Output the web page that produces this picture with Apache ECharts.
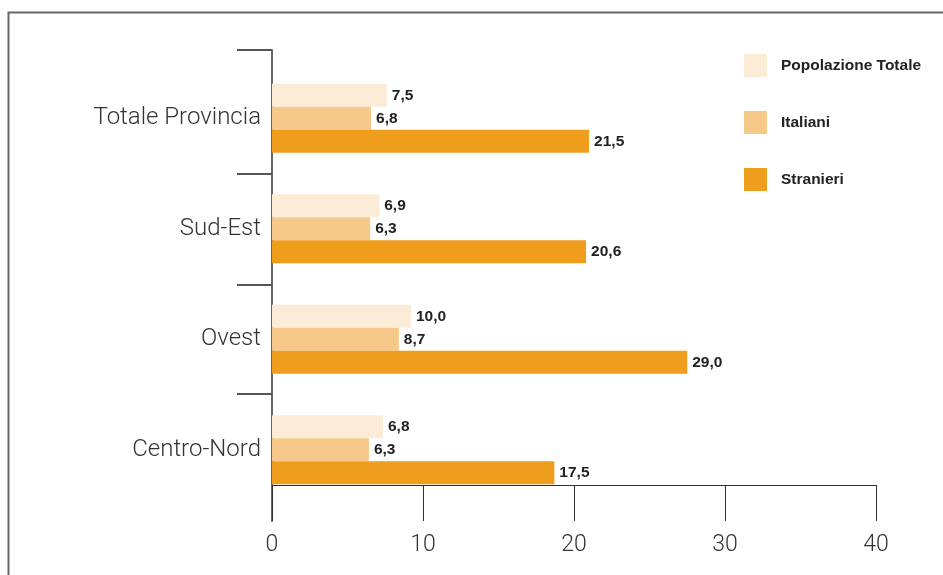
<!DOCTYPE html>
<html>
<head>
<meta charset="utf-8">
<script src="https://cdn.jsdelivr.net/npm/echarts@6/dist/echarts.min.js"></script>
<style>
html,body{margin:0;padding:0;background:#fff;}
#chart{width:943px;height:575px;}
</style>
</head>
<body>
<div id="chart"></div>
<script>
// Categories, top to bottom
const categories = ['Totale Provincia', 'Sud-Est', 'Ovest', 'Centro-Nord'];
const seriesNames = ['Popolazione Totale', 'Italiani', 'Stranieri'];
// Bar lengths as drawn in the picture
const popolazioneTotale = [7.6, 7.1, 9.2, 7.35];
const italiani = [6.56, 6.5, 8.4, 6.42];
const stranieri = [21.0, 20.8, 27.5, 18.7];
// Printed value labels
const popolazioneTotaleLabels = ['7,5', '6,9', '10,0', '6,8'];
const italianiLabels = ['6,8', '6,3', '8,7', '6,3'];
const stranieriLabels = ['21,5', '20,6', '29,0', '17,5'];
// X axis ticks
const xTicks = [0, 10, 20, 30, 40];

const colors = ['#fcebd7', '#f6c98a', '#ee9d1c'];
const FONT = '"Liberation Sans", Arial, sans-serif';
const LIGHT = 'Roboto, "Liberation Sans", sans-serif';

function mkSeries(name, data, labels, color) {
  return {
    name: name,
    type: 'bar',
    xAxisIndex: 0,
    yAxisIndex: 0,
    data: data,
    barWidth: 23,
    barGap: '0%',
    itemStyle: { color: color },
    label: {
      show: true,
      position: 'right',
      distance: 5,
      fontFamily: FONT,
      fontWeight: 'bold',
      fontSize: 15.5,
      color: '#222',
      formatter: p => labels[p.dataIndex]
    }
  };
}

const chart = echarts.init(document.getElementById('chart'), null, { renderer: 'canvas' });
chart.setOption({
  animation: false,
  backgroundColor: '#fff',
  textStyle: { fontFamily: FONT },
  graphic: [{
    type: 'polyline',
    shape: { points: [[8.5, 580], [8.5, 12.5], [950, 12.5]] },
    style: { stroke: '#666', lineWidth: 2, fill: null }
  }],
  legend: {
    orient: 'vertical',
    left: 744,
    top: 54,
    padding: 0,
    itemWidth: 23,
    itemHeight: 23,
    itemGap: 34,
    icon: 'rect',
    data: seriesNames,
    textStyle: { fontFamily: FONT, fontWeight: 'bold', fontSize: 15.5, color: '#222', padding: [0, 0, 0, 9] }
  },
  grid: [
    { left: 272, right: 67, top: 63, bottom: 70 },
    { left: 272, right: 67, top: 50, bottom: 54 }
  ],
  xAxis: [
    {
      type: 'value',
      gridIndex: 0,
      min: xTicks[0],
      max: xTicks[xTicks.length - 1],
      interval: 10,
      offset: -20,
      axisLine: { show: true, lineStyle: { color: '#333', width: 1 } },
      axisTick: { show: true, length: 36, inside: false, lineStyle: { color: '#333', width: 1 } },
      axisLabel: { margin: 49, fontFamily: LIGHT, fontWeight: 300, fontSize: 23, color: '#333' },
      splitLine: { show: false }
    },
    {
      type: 'value',
      gridIndex: 1,
      show: false,
      min: 0,
      max: 40
    }
  ],
  yAxis: [
    {
      type: 'category',
      gridIndex: 0,
      inverse: true,
      data: categories,
      axisLine: { show: false },
      axisTick: { show: false },
      axisLabel: { margin: 11, fontFamily: LIGHT, fontWeight: 300, fontSize: 24, color: '#333', padding: [0, 0, 10, 0] }
    },
    {
      type: 'value',
      gridIndex: 1,
      inverse: true,
      min: 50,
      max: 521,
      axisLine: { show: true, lineStyle: { color: '#666', width: 2 } },
      axisTick: { show: true, length: 35, customValues: [50, 174, 285, 394], lineStyle: { color: '#555', width: 2 } },
      axisLabel: { show: false },
      splitLine: { show: false }
    }
  ],
  series: [
    mkSeries(seriesNames[0], popolazioneTotale, popolazioneTotaleLabels, colors[0]),
    mkSeries(seriesNames[1], italiani, italianiLabels, colors[1]),
    mkSeries(seriesNames[2], stranieri, stranieriLabels, colors[2])
  ]
});
</script>
</body>
</html>
